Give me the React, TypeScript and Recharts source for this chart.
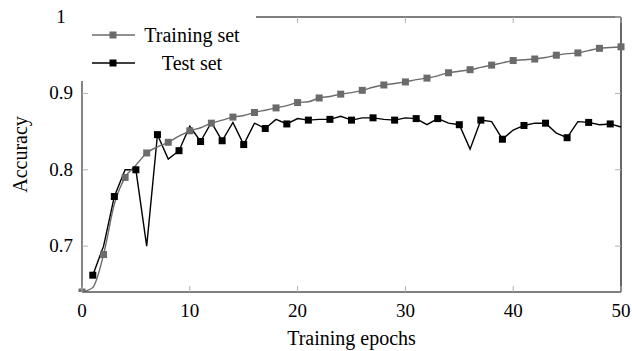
import React from 'react';
import { LineChart, Line, XAxis, YAxis, Legend } from 'recharts';

const epochs = Array.from({ length: 51 }, (_, i) => i);

const trainingSet = [
  0.640, 0.646, 0.689, 0.755, 0.790, 0.806, 0.822, 0.830, 0.836, 0.844,
  0.851, 0.855, 0.861, 0.865, 0.869, 0.871, 0.875, 0.878, 0.881, 0.884,
  0.888, 0.889, 0.894, 0.896, 0.899, 0.901, 0.904, 0.908, 0.911, 0.913,
  0.915, 0.918, 0.920, 0.923, 0.927, 0.929, 0.931, 0.934, 0.937, 0.940,
  0.943, 0.944, 0.945, 0.947, 0.950, 0.952, 0.953, 0.956, 0.959, 0.960,
  0.961,
];

const testSet = [
  null, 0.662, 0.700, 0.765, 0.800, 0.800, 0.700, 0.846, 0.814, 0.825,
  0.857, 0.837, 0.862, 0.838, 0.862, 0.833, 0.861, 0.854, 0.866, 0.860,
  0.867, 0.865, 0.866, 0.866, 0.870, 0.865, 0.868, 0.868, 0.866, 0.865,
  0.868, 0.867, 0.859, 0.867, 0.861, 0.859, 0.827, 0.865, 0.863, 0.840,
  0.852, 0.858, 0.861, 0.861, 0.848, 0.842, 0.863, 0.862, 0.859, 0.860,
  0.856,
];

const xTicks = [0, 10, 20, 30, 40, 50];
const yTicks = [0.7, 0.8, 0.9, 1];

const data = epochs.map((e, i) => ({ epoch: e, train: trainingSet[i], test: testSet[i] }));

const FONT = '"Liberation Serif", "Times New Roman", serif';
const GREY = '#6b6b6b';
const TICK = '#b0b0b0';

const squareDot = (color: string, parity: number) => (props: any) => {
  const { cx, cy, payload, index } = props;
  if (cx == null || cy == null || payload.epoch % 2 !== parity) return <g key={`d-${index}`} />;
  return <rect key={`d-${index}`} x={cx - 3.5} y={cy - 3.5} width={7} height={7} fill={color} />;
};

const BottomTick = (props: any) => {
  const { x, y, payload } = props;
  return (
    <g>
      <line x1={x} y1={y} x2={x} y2={y - 6} stroke={TICK} />
      <text x={x} y={y + 25} textAnchor="middle" fontFamily={FONT} fontSize={19} fill="#000">
        {payload.value}
      </text>
    </g>
  );
};

const TopTick = (props: any) => {
  const { x, y } = props;
  return <line x1={x} y1={y} x2={x} y2={y + 6} stroke={TICK} />;
};

const LeftTick = (props: any) => {
  const { x, y, payload } = props;
  return (
    <g>
      <line x1={x} y1={y} x2={x + 6} y2={y} stroke={TICK} />
      <text x={x - 21} y={y + 6} textAnchor="middle" fontFamily={FONT} fontSize={19} fill="#000">
        {payload.value}
      </text>
    </g>
  );
};

const RightTick = (props: any) => {
  const { x, y } = props;
  return <line x1={x} y1={y} x2={x - 6} y2={y} stroke={TICK} />;
};

const LegendBox = () => (
  <svg width={177} height={71}>
    <line x1={13} y1={25} x2={56} y2={25} stroke={GREY} strokeWidth={1.4} />
    <rect x={30.5} y={21.5} width={7} height={7} fill={GREY} />
    <text x={113} y={32} textAnchor="middle" fontFamily={FONT} fontSize={20}>Training set</text>
    <line x1={13} y1={53} x2={56} y2={53} stroke="#000" strokeWidth={1.4} />
    <rect x={30.5} y={49.5} width={7} height={7} fill="#000" />
    <text x={113} y={60} textAnchor="middle" fontFamily={FONT} fontSize={20}>Test set</text>
  </svg>
);

export default function App() {
  return (
    <div style={{ position: 'absolute', left: 0, top: 0, background: '#fff' }}>
      <LineChart width={632} height={351} data={data} margin={{ top: 16, right: 10, bottom: 0, left: 0 }}>
        <XAxis
          dataKey="epoch"
          type="number"
          domain={[0, 50]}
          ticks={xTicks}
          height={59}
          tickSize={0}
          tickMargin={0}
          tickLine={false}
          tick={<BottomTick />}
          axisLine={{ stroke: '#000', strokeWidth: 1.2 }}
          label={{ value: 'Training epochs', position: 'insideBottom', offset: 6, style: { fontFamily: FONT, fontSize: 20, fill: '#000' } }}
        />
        <XAxis
          xAxisId="top"
          orientation="top"
          dataKey="epoch"
          type="number"
          domain={[0, 50]}
          ticks={xTicks}
          height={1}
          tickSize={0}
          tickMargin={0}
          tickLine={false}
          tick={<TopTick />}
          axisLine={{ stroke: '#000', strokeWidth: 1.2 }}
        />
        <YAxis
          type="number"
          domain={[0.64, 1]}
          ticks={yTicks}
          width={82}
          allowDataOverflow
          tickSize={0}
          tickMargin={0}
          tickLine={false}
          tick={<LeftTick />}
          axisLine={{ stroke: '#333', strokeWidth: 1.2 }}
          label={{ value: 'Accuracy', angle: -90, position: 'insideLeft', offset: 20, style: { fontFamily: FONT, fontSize: 20, fill: '#000', textAnchor: 'middle' } }}
        />
        <YAxis
          yAxisId="right"
          orientation="right"
          type="number"
          domain={[0.64, 1]}
          ticks={yTicks}
          width={1}
          allowDataOverflow
          tickSize={0}
          tickMargin={0}
          tickLine={false}
          tick={<RightTick />}
          axisLine={{ stroke: '#000', strokeWidth: 1.2 }}
        />
        <Legend
          layout="vertical"
          align="center"
          verticalAlign="middle"
          content={() => <LegendBox />}
          wrapperStyle={{ left: 79, top: 10, width: 177, height: 71, background: '#fff' }}
        />
        <Line
          dataKey="train"
          xAxisId="top"
          yAxisId="right"
          stroke="none"
          dot={false}
          activeDot={false}
          legendType="none"
          isAnimationActive={false}
        />
        <Line
          dataKey="test"
          type="linear"
          stroke="#000"
          strokeWidth={1.4}
          dot={squareDot('#000', 1)}
          activeDot={false}
          isAnimationActive={false}
        />
        <Line
          dataKey="train"
          type="monotone"
          stroke={GREY}
          strokeWidth={1.4}
          dot={squareDot(GREY, 0)}
          activeDot={false}
          isAnimationActive={false}
        />
      </LineChart>
    </div>
  );
}
